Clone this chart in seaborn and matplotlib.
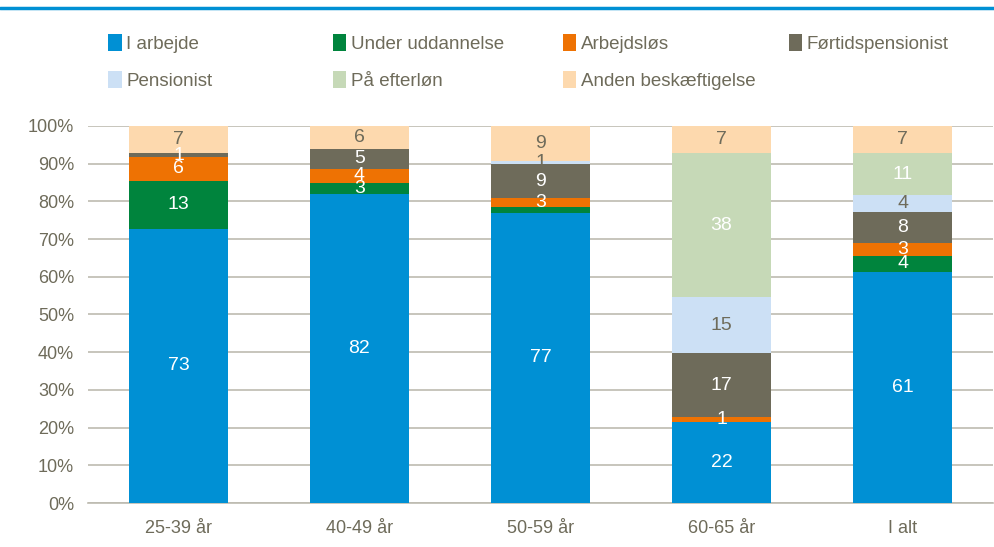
import numpy as np
import pandas as pd
import seaborn as sns
import matplotlib.pyplot as plt
from matplotlib.patches import Patch
from matplotlib.lines import Line2D

# Data (shares in %)
groups = ['25-39 år', '40-49 år', '50-59 år', '60-65 år', 'I alt']
status = ['I arbejde', 'Under uddannelse', 'Arbejdsløs', 'Førtidspensionist',
          'Pensionist', 'På efterløn', 'Anden beskæftigelse']
i_arbejde = [72.7, 81.9, 77.0, 21.5, 61.4]
under_uddannelse = [12.8, 3.1, 1.4, 0.0, 4.2]
arbejdsloes = [6.2, 3.6, 2.6, 1.3, 3.3]
foertidspension = [1.2, 5.3, 8.8, 17.0, 8.3]
pensionist = [0.0, 0.0, 0.9, 14.8, 4.5]
efterloen = [0.0, 0.0, 0.0, 38.2, 11.0]
anden = [7.1, 6.1, 9.3, 7.2, 7.3]
# segments whose label is not shown in the original
hidden_labels = [('50-59 år', 'Under uddannelse')]

series = [i_arbejde, under_uddannelse, arbejdsloes, foertidspension,
          pensionist, efterloen, anden]
colors = ['#0090D4', '#00843D', '#EE7203', '#6E6B5A', '#CCE0F5', '#C6D9B7', '#FDD9AE']
label_colors = ['white', 'white', 'white', 'white', '#6E6B5A', 'white', '#6E6B5A']
text_grey = '#6E6B5A'

sns.set_style('white')
plt.rcParams['font.family'] = ['Liberation Sans', 'DejaVu Sans']

fig = plt.figure(figsize=(9.95, 5.47), dpi=100)
ax = fig.add_axes([0.0884, 0.0804, 0.9096, 0.6893])

bottom = np.zeros(len(groups))
for name, vals, col, lcol in zip(status, series, colors, label_colors):
    df = pd.DataFrame({'gruppe': groups, 'andel': vals})
    sns.barplot(data=df, x='gruppe', y='andel', color=col, width=0.55,
                bottom=bottom, errorbar=None, ax=ax, saturation=1, zorder=3,
                linewidth=0)
    for i, v in enumerate(vals):
        if v < 0.5 or (groups[i], name) in hidden_labels:
            continue
        ax.text(i, bottom[i] + v / 2, f'{v:.0f}', ha='center', va='center',
                color=lcol, fontsize=14, zorder=5)
    bottom = bottom + np.array(vals)

ax.set_xlim(-0.5, 4.5)
ax.set_ylim(0, 100)
ax.set_yticks(range(0, 101, 10))
ax.set_yticklabels([f'{t}%' for t in range(0, 101, 10)])
ax.yaxis.grid(True, color='#BDBBB0', linewidth=1.2, zorder=0)
ax.set_xlabel('')
ax.set_ylabel('')
for s in ['top', 'right', 'left']:
    ax.spines[s].set_visible(False)
ax.spines['bottom'].set_color('#BDBBB0')
ax.spines['bottom'].set_linewidth(1.2)
ax.tick_params(axis='both', length=0, labelsize=13, colors=text_grey, pad=10)
ax.tick_params(axis='x', pad=12)

# legend, laid out in four equal columns like the original
col_x = [0.109, 0.335, 0.566, 0.793]
for c, xpos in enumerate(col_x):
    idx = [k for k in (c, c + 4) if k < len(status)]
    handles = [Patch(facecolor=colors[k], edgecolor='none') for k in idx]
    leg = fig.legend(handles, [status[k] for k in idx], loc='upper left',
                     bbox_to_anchor=(xpos, 0.938), frameon=False, ncol=1,
                     fontsize=13.5, handlelength=0.7, handleheight=1.0,
                     handletextpad=0.25, labelspacing=0.98, borderaxespad=0,
                     borderpad=0)
    for t in leg.get_texts():
        t.set_color(text_grey)

# blue rule at the top
fig.add_artist(Line2D([0, 1], [0.985, 0.985], color='#0090D4', linewidth=2.5,
                      transform=fig.transFigure))

fig.savefig('out.png', dpi=100)
